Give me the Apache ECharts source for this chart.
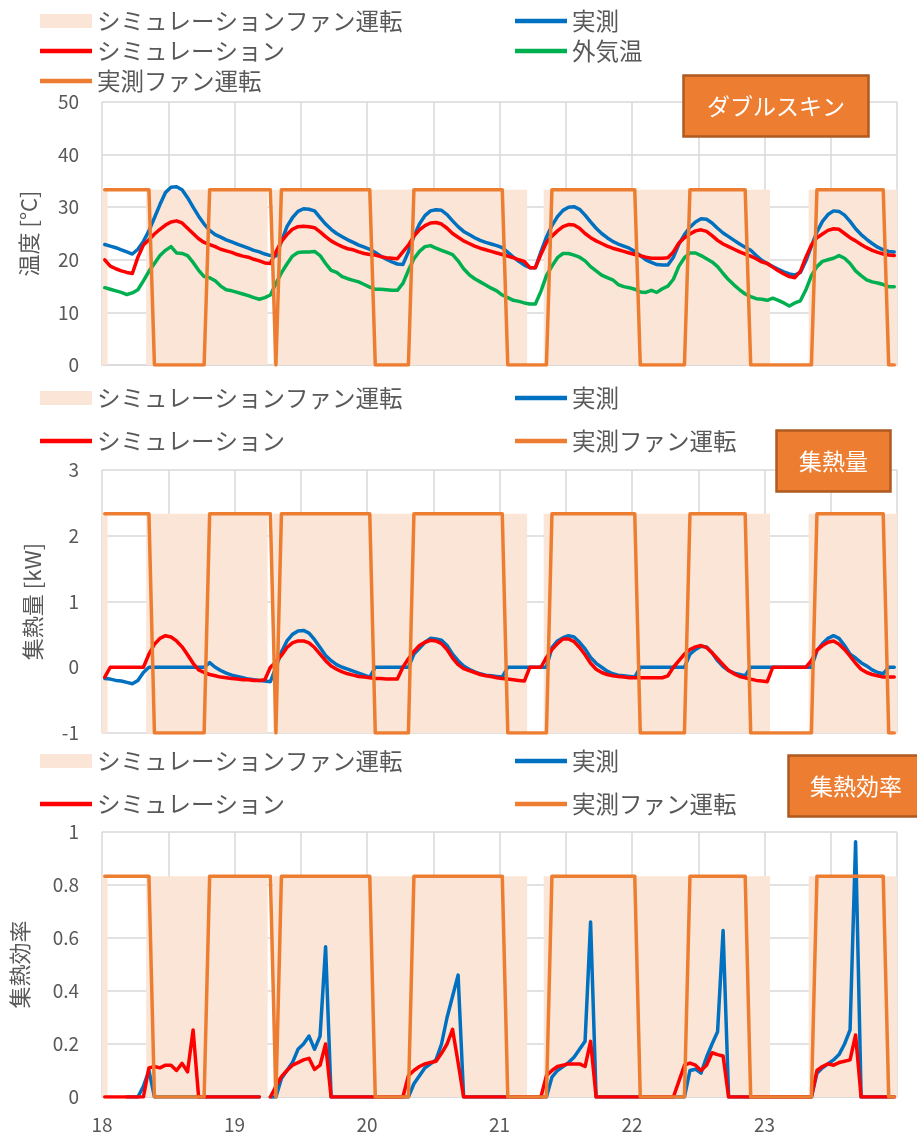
<!DOCTYPE html>
<html>
<head>
<meta charset="utf-8">
<script src="https://cdn.jsdelivr.net/npm/echarts@6.0.0/dist/echarts.min.js"></script>
<style>
html,body{margin:0;padding:0;background:#ffffff;}
#chart{width:917px;height:1139px;}
</style>
</head>
<body>
<div id="chart"></div>
<script>
// ---- x axis: days 18..24, hourly samples (sample i at 18 + (i+0.5)/24 day) ----
const xTickLabels = [18, 19, 20, 21, 22, 23];

// ---- Panel 1: temperatures [°C] (hourly, 6 days) ----
const tempMeasured = [
  22.9,22.6,22.3,21.9,21.5,21.1,22.0,23.5,25.5,28.0,30.5,32.8,33.8,33.9,33.3,31.8,30.0,28.3,26.8,25.6,24.8,24.3,23.8,23.4,
  23.0,22.6,22.2,21.8,21.5,21.1,20.8,20.7,23.5,26.3,28.0,29.2,29.7,29.6,29.3,28.0,26.8,25.8,25.0,24.4,23.8,23.3,22.8,22.4,
  22.0,21.4,20.7,20.1,19.6,19.2,19.1,21.5,24.5,26.8,28.4,29.3,29.5,29.4,28.6,27.4,26.3,25.4,24.8,24.2,23.7,23.3,23.0,22.7,
  22.3,21.4,20.5,19.7,19.0,18.5,18.5,21.5,24.3,26.5,28.2,29.4,30.0,30.1,29.6,28.5,27.2,26.0,25.0,24.2,23.5,23.0,22.6,22.2,
  21.6,20.8,20.0,19.5,19.1,19.0,19.0,20.5,23.0,24.8,26.2,27.2,27.8,27.7,27.0,26.0,25.1,24.4,23.7,23.0,22.4,21.8,20.8,19.9,
  19.3,18.7,18.2,17.7,17.3,17.1,17.6,19.8,22.6,25.3,27.3,28.6,29.3,29.2,28.5,27.3,25.9,24.8,23.9,23.1,22.4,21.9,21.6,21.5
];
const tempSim = [
  20.0,18.8,18.3,17.9,17.6,17.4,20.5,22.8,23.8,24.9,25.8,26.6,27.2,27.4,27.0,26.0,25.0,24.0,23.3,22.9,22.5,22.0,21.7,21.4,
  21.0,20.7,20.5,20.1,19.8,19.4,19.3,21.5,23.5,24.8,25.8,26.3,26.4,26.3,26.1,25.3,24.4,23.6,23.0,22.5,22.1,21.9,21.5,21.2,
  21.0,20.9,20.6,20.4,20.3,20.2,21.5,22.8,24.5,25.7,26.5,27.0,27.1,26.8,26.0,25.0,24.3,23.6,23.1,22.6,22.2,21.9,21.6,21.3,
  21.0,20.7,20.4,20.0,19.7,18.5,18.5,21.0,23.3,24.5,25.5,26.3,26.7,26.6,26.0,25.0,24.2,23.6,23.1,22.6,22.2,21.9,21.6,21.3,
  21.0,20.8,20.5,20.3,20.3,20.3,20.4,21.5,23.2,24.2,24.9,25.5,25.7,25.4,24.6,23.7,23.0,22.5,22.0,21.5,21.1,20.7,20.2,19.6,
  19.3,18.6,17.9,17.3,16.8,16.6,17.8,20.5,22.8,24.2,24.9,25.6,25.9,25.8,25.0,24.2,23.6,22.9,22.3,21.8,21.4,21.1,20.9,20.8
];
const tempOutdoor = [
  14.7,14.4,14.1,13.8,13.4,13.7,14.3,16.0,17.8,19.3,20.8,21.8,22.5,21.3,21.2,20.8,19.5,18.0,16.8,16.6,16.0,15.0,14.3,14.1,
  13.8,13.5,13.2,12.8,12.5,12.8,13.3,15.5,17.5,19.2,20.7,21.4,21.5,21.5,21.6,20.8,19.3,18.0,17.6,16.8,16.4,16.1,15.8,15.3,
  14.8,14.4,14.4,14.3,14.2,14.2,15.5,18.0,20.2,21.6,22.5,22.7,22.2,21.8,21.4,21.0,19.8,18.3,17.2,16.4,15.8,15.2,14.6,14.1,
  13.3,12.8,12.3,12.1,11.8,11.6,11.6,14.0,17.0,18.8,20.4,21.2,21.2,20.9,20.5,19.8,18.7,17.9,17.1,16.6,16.2,15.3,14.9,14.7,
  14.4,13.9,13.8,14.2,13.8,14.5,15.0,16.3,18.8,20.4,21.3,21.3,20.8,20.2,19.6,18.7,17.4,16.2,15.2,14.3,13.5,13.0,12.6,12.5,
  12.3,12.7,12.3,11.8,11.2,11.8,12.2,14.3,17.0,18.7,19.7,20.0,20.3,20.8,20.3,19.3,17.9,17.0,16.2,15.8,15.6,15.3,14.9,14.9
];

// ---- Panel 2: heat collected [kW] ----
const heatMeasured = [
  -0.17,-0.18,-0.20,-0.21,-0.23,-0.25,-0.20,-0.08,0,0,0,0,0,0,0,0,0,0,0,0.07,0.0,-0.05,-0.09,-0.12,
  -0.14,-0.16,-0.18,-0.19,-0.20,-0.21,-0.22,0,0.23,0.40,0.50,0.55,0.56,0.52,0.42,0.30,0.18,0.10,0.04,0.0,-0.03,-0.06,-0.09,-0.12,
  -0.15,0,0,0,0,0,0,0,0.20,0.29,0.38,0.44,0.43,0.41,0.33,0.20,0.10,0.02,-0.03,-0.07,-0.10,-0.12,-0.13,-0.14,
  -0.15,0,0,0,0,0,0,0,0,0.30,0.40,0.45,0.48,0.46,0.38,0.28,0.15,0.06,0.0,-0.06,-0.10,-0.12,-0.13,-0.14,
  -0.15,0,0,0,0,0,0,0,0,0,0.20,0.27,0.32,0.31,0.22,0.10,0.01,-0.05,-0.09,-0.11,-0.13,0,0,0,
  0,0,0,0,0,0,0,0,0,0.25,0.36,0.44,0.48,0.44,0.33,0.20,0.14,0.07,0.02,-0.04,-0.08,-0.10,0,0
];
const heatSim = [
  -0.15,0,0,0,0,0,0,0,0.20,0.35,0.44,0.48,0.46,0.40,0.31,0.19,0.06,-0.04,-0.08,-0.11,-0.13,-0.15,-0.16,-0.17,
  -0.18,-0.19,-0.19,-0.20,-0.20,-0.19,0,0.08,0.18,0.30,0.37,0.40,0.40,0.37,0.30,0.20,0.10,0.02,-0.03,-0.07,-0.10,-0.12,-0.14,-0.15,
  -0.16,-0.17,-0.17,-0.18,-0.18,-0.18,0.0,0.13,0.24,0.33,0.38,0.41,0.40,0.36,0.27,0.14,0.04,-0.02,-0.05,-0.08,-0.11,-0.13,-0.14,-0.16,
  -0.17,-0.18,-0.19,-0.20,-0.21,0,0,0,0.15,0.27,0.36,0.43,0.43,0.39,0.30,0.19,0.06,-0.03,-0.08,-0.11,-0.13,-0.14,-0.15,-0.16,
  -0.16,-0.16,-0.16,-0.16,-0.16,-0.16,-0.13,0.0,0.10,0.20,0.27,0.31,0.33,0.30,0.22,0.13,0.04,-0.05,-0.10,-0.14,-0.16,-0.18,-0.20,-0.21,
  -0.22,0,0,0,0,0,0,0,0.10,0.26,0.33,0.38,0.40,0.35,0.27,0.17,0.06,-0.03,-0.08,-0.11,-0.13,-0.15,-0.15,-0.15
];

// ---- Panel 3: collection efficiency ----
const effMeasured = [
  null,null,null,null,0,0,0,0.04,0.10,0,0,0,0,0,0,0,0,0,0,0,0,0,0,0,
  0,0,0,0,0,null,0,0,0.07,0.10,0.13,0.18,0.20,0.23,0.18,0.23,0.567,0,0,0,0,0,0,0,
  0,0,0,0,0,0,0,0,0.05,0.08,0.11,0.125,0.14,0.20,0.30,0.38,0.46,0,0,0,0,0,0,0,
  0,0,0,0,0,0,0,0,0,0.075,0.10,0.115,0.13,0.15,0.18,0.21,0.66,0,0,0,0,0,0,0,
  0,0,0,0,0,0,0,0,0,0,0.10,0.105,0.09,0.15,0.20,0.246,0.628,0,0,0,0,0,0,0,
  0,0,0,0,0,0,0,0,0,0.09,0.11,0.125,0.14,0.16,0.20,0.253,0.963,0,0,0,0,0,0,0
];
const effSim = [
  0,0,0,0,0,0,0,0,0.11,0.115,0.11,0.12,0.12,0.10,0.127,0.095,0.253,0,0,0,0,0,0,0,
  0,0,0,0,0,null,0,0.04,0.077,0.10,0.12,0.13,0.14,0.146,0.104,0.12,0.20,0,0,0,0,0,0,0,
  0,0,0,0,0,0,0,0.08,0.10,0.115,0.125,0.13,0.135,0.165,0.20,0.255,0.13,0,0,0,0,0,0,0,
  0,0,0,0,0,0,0,0,0.08,0.10,0.115,0.12,0.125,0.125,0.125,0.115,0.21,0,0,0,0,0,0,0,
  0,0,0,0,0,0,0,0,0.06,0.12,0.128,0.12,0.10,0.12,0.167,0.16,0.155,0,0,0,0,0,0,0,
  0,0,0,0,0,0,0,0,0,0.10,0.115,0.125,0.12,0.13,0.135,0.14,0.234,0,0,0,0,0,0,0
];

// ---- Fan operation (1 = running) ----
const fanMeasured = [
  1,1,1,1,1,1,1,1,1,0,0,0,0,0,0,0,0,0,0,1,1,1,1,1,
  1,1,1,1,1,1,1,0,1,1,1,1,1,1,1,1,1,1,1,1,1,1,1,1,
  1,0,0,0,0,0,0,0,1,1,1,1,1,1,1,1,1,1,1,1,1,1,1,1,
  1,0,0,0,0,0,0,0,0,1,1,1,1,1,1,1,1,1,1,1,1,1,1,1,
  1,0,0,0,0,0,0,0,0,0,1,1,1,1,1,1,1,1,1,1,1,0,0,0,
  0,0,0,0,0,0,0,0,0,1,1,1,1,1,1,1,1,1,1,1,1,1,0,0
];
const fanSim = [
  1,0,0,0,0,0,0,0,1,1,1,1,1,1,1,1,1,1,1,1,1,1,1,1,
  1,1,1,1,1,1,0,1,1,1,1,1,1,1,1,1,1,1,1,1,1,1,1,1,
  1,1,1,1,1,1,1,1,1,1,1,1,1,1,1,1,1,1,1,1,1,1,1,1,
  1,1,1,1,1,0,0,0,1,1,1,1,1,1,1,1,1,1,1,1,1,1,1,1,
  1,1,1,1,1,1,1,1,1,1,1,1,1,1,1,1,1,1,1,1,1,1,1,1,
  1,0,0,0,0,0,0,0,1,1,1,1,1,1,1,1,1,1,1,1,1,1,1,1
];

// ---- names & colours ----
const N_SIMFAN = 'シミュレーションファン運転';
const N_MEAS = '実測';
const N_SIM = 'シミュレーション';
const N_OUT = '外気温';
const N_MEASFAN = '実測ファン運転';
const C = {meas:'#0070C0', sim:'#FF0000', out:'#00B050', fan:'#ED7D31', simFan:'#FBE5D6', grid:'#D9D9D9', text:'#595959'};
const FONT = '"Noto Sans CJK JP", "Noto Sans", sans-serif';
const LW = 3.5;

// ---- helpers ----
const t = i => 18 + (i + 0.5) / 24;
const pts = arr => arr.map((v, i) => [t(i), v == null ? '-' : v]);
const stepPts = arr => arr.concat([arr[arr.length - 1]]).map((v, i) => [18 + i / 24, v]);

function lineSeries(name, color, data, g, yIdx) {
  return {
    name, type: 'line', xAxisIndex: g, yAxisIndex: yIdx, data: pts(data),
    showSymbol: false, symbol: 'none', animation: false,
    lineStyle: {color, width: LW, cap: 'round', join: 'round'},
    itemStyle: {color}
  };
}
function simFanSeries(g) {
  return {
    name: N_SIMFAN, type: 'line', xAxisIndex: g, yAxisIndex: 2 * g + 1, step: 'end',
    data: stepPts(fanSim), showSymbol: false, symbol: 'none', animation: false,
    lineStyle: {width: 0, color: C.simFan}, itemStyle: {color: C.simFan},
    areaStyle: {color: C.simFan, opacity: 1, origin: 'start'}
  };
}

const grids = [
  {left: 102, right: 20, top: 102, height: 263},
  {left: 102, right: 20, top: 470, height: 263},
  {left: 102, right: 20, top: 832, height: 265}
].map(g => Object.assign(g, {outerBoundsMode: 'none', containLabel: false}));

const xAxes = [0, 1, 2].map(g => ({
  type: 'value', gridIndex: g, min: 18, max: 24, interval: 0.5,
  splitLine: {show: true, lineStyle: {color: C.grid, width: 1.5}},
  axisLine: {show: true, lineStyle: {color: C.grid, width: 1.5}},
  axisTick: {show: false},
  axisLabel: {
    show: g === 2, margin: 18, fontSize: 19, color: C.text, fontFamily: FONT,
    showMaxLabel: false,
    formatter: v => (xTickLabels.indexOf(v) >= 0 ? String(v) : '')
  }
}));

function mainY(g, min, max, interval, name, nameGap) {
  return {
    type: 'value', gridIndex: g, min, max, interval, position: 'left',
    name, nameLocation: 'middle', nameRotate: 90, nameGap,
    nameTextStyle: {fontSize: 22, color: C.text, fontFamily: FONT},
    splitLine: {show: true, lineStyle: {color: C.grid, width: 1.5}},
    axisLine: {show: false}, axisTick: {show: false},
    axisLabel: {margin: 23, fontSize: 19, color: C.text, fontFamily: FONT}
  };
}
function fanY(g, max) {
  return {type: 'value', gridIndex: g, min: 0, max, show: false, position: 'right',
          splitLine: {show: false}};
}
const yAxes = [
  mainY(0, 0, 50, 10, '温度 [°C]', 62), fanY(0, 1.5),
  mainY(1, -1, 3, 1, '集熱量 [kW]', 58), fanY(1, 1.2),
  mainY(2, 0, 1, 0.2, '集熱効率', 71), fanY(2, 1.2)
];

const series = [
  simFanSeries(0),
  lineSeries(N_MEAS, C.meas, tempMeasured, 0, 0),
  lineSeries(N_SIM, C.sim, tempSim, 0, 0),
  lineSeries(N_OUT, C.out, tempOutdoor, 0, 0),
  lineSeries(N_MEASFAN, C.fan, fanMeasured, 0, 1),

  simFanSeries(1),
  lineSeries(N_MEAS, C.meas, heatMeasured, 1, 2),
  lineSeries(N_SIM, C.sim, heatSim, 1, 2),
  lineSeries(N_MEASFAN, C.fan, fanMeasured, 1, 3),

  simFanSeries(2),
  lineSeries(N_MEAS, C.meas, effMeasured, 2, 4),
  lineSeries(N_SIM, C.sim, effSim, 2, 4),
  lineSeries(N_MEASFAN, C.fan, fanMeasured, 2, 5)
];

function leg(name, left, cy, isArea) {
  return {
    data: [{name, icon: 'rect'}], left, top: cy - 14, padding: 0,
    itemWidth: 52, itemHeight: isArea ? 14 : 4.5, selectedMode: false,
    itemStyle: {borderWidth: 0},
    textStyle: {fontSize: 23.5, lineHeight: 28, color: C.text, fontFamily: FONT}
  };
}
const legends = [
  leg(N_SIMFAN, 40, 21, true), leg(N_MEAS, 515, 21), leg(N_SIM, 40, 51), leg(N_OUT, 515, 51), leg(N_MEASFAN, 40, 81),
  leg(N_SIMFAN, 40, 398, true), leg(N_MEAS, 515, 398), leg(N_SIM, 40, 441), leg(N_MEASFAN, 515, 441),
  leg(N_SIMFAN, 40, 761, true), leg(N_MEAS, 515, 761), leg(N_SIM, 40, 804), leg(N_MEASFAN, 515, 804)
];

function boxTitle(text, left, top, padH) {
  return {
    text, left, top, padding: [19, padH],
    backgroundColor: C.fan, borderColor: '#AE5A21', borderWidth: 2.5,
    textStyle: {color: '#ffffff', fontSize: 23, lineHeight: 24, fontWeight: 'normal', fontFamily: FONT}
  };
}
const titles = [
  boxTitle('ダブルスキン', 683, 75, 24),
  boxTitle('集熱量', 776, 430, 23),
  boxTitle('集熱効率', 788, 755, 22)
];

const chart = echarts.init(document.getElementById('chart'), null, {renderer: 'canvas'});
chart.setOption({
  backgroundColor: '#ffffff',
  animation: false,
  textStyle: {fontFamily: FONT},
  title: titles,
  legend: legends,
  grid: grids,
  xAxis: xAxes,
  yAxis: yAxes,
  series
});
</script>
</body>
</html>
